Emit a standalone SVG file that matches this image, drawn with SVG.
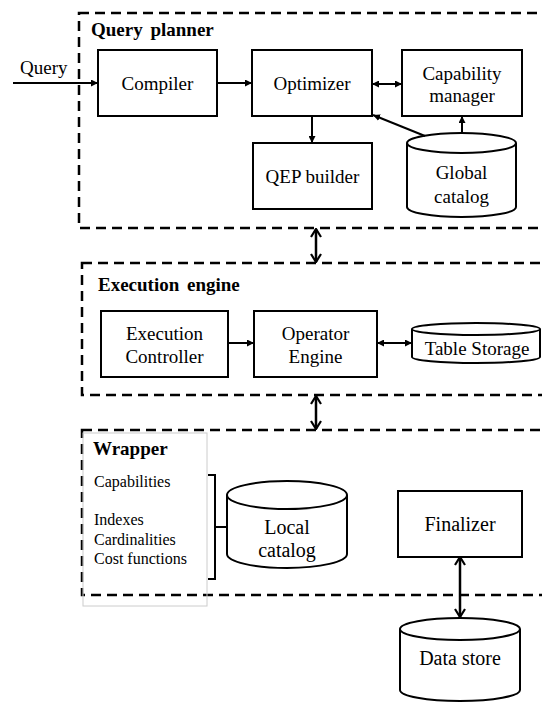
<svg xmlns="http://www.w3.org/2000/svg" width="542" height="702" viewBox="0 0 542 702" font-family="'Liberation Serif', 'Times New Roman', serif">
<defs>
<style>
text{font-family:"Liberation Serif","Times New Roman",serif;fill:#000}
.lbl{font-size:19px;text-anchor:middle}
.lg{font-size:20px;text-anchor:middle}
.ttl{font-size:19px;font-weight:bold}
.sm{font-size:16px}
.box{fill:#fff;stroke:#000;stroke-width:2}
.dash{fill:none;stroke:#000;stroke-width:2.5;stroke-dasharray:10,6}
.ln{fill:none;stroke:#000;stroke-width:2}
.big{fill:none;stroke:#000;stroke-width:2.5}
</style>
<marker id="ah" viewBox="0 0 10 10" refX="10" refY="5" markerWidth="7" markerHeight="7" markerUnits="userSpaceOnUse" orient="auto-start-reverse">
<path d="M0,0 L10,5 L0,10 Z" fill="#000"/>
</marker>
<marker id="ch" viewBox="0 0 12 12" refX="11" refY="6" markerWidth="12" markerHeight="12" markerUnits="userSpaceOnUse" orient="auto-start-reverse">
<path d="M3,1 L11,6 L3,11" fill="none" stroke="#000" stroke-width="2.2"/>
</marker>
</defs>
<rect width="542" height="702" fill="#fff"/>

<g id="query-planner">
<rect class="dash" x="79" y="13" width="490" height="215"/>
<text class="ttl" x="91" y="36" word-spacing="3">Query planner</text>
</g>
<g id="execution-engine">
<rect class="dash" x="82" y="263" width="487" height="132"/>
<text class="ttl" x="98" y="291" word-spacing="3">Execution engine</text>
</g>
<g id="wrapper">
<rect class="dash" x="82" y="430" width="487" height="165"/>
<rect x="83" y="433" width="124" height="173" fill="none" stroke="#ccc" stroke-width="1"/>
<text class="ttl" x="93" y="455">Wrapper</text>
<text class="sm" x="94" y="487">Capabilities</text>
<text class="sm" x="94" y="525">Indexes</text>
<text class="sm" x="94" y="545">Cardinalities</text>
<text class="sm" x="94" y="564">Cost functions</text>
<path class="ln" d="M208,475 H215 V579 H208 M215,527 H227"/>
</g>

<g id="compiler"><rect class="box" x="98" y="50" width="119" height="66"/><text class="lbl" x="157.5" y="90">Compiler</text></g>
<g id="optimizer"><rect class="box" x="252" y="50" width="120" height="66"/><text class="lbl" x="312" y="90">Optimizer</text></g>
<g id="capability-manager"><rect class="box" x="402" y="50" width="120" height="66"/><text class="lbl" x="462" y="80">Capability</text><text class="lbl" x="462" y="102">manager</text></g>
<g id="qep-builder"><rect class="box" x="253" y="143" width="119" height="66"/><text class="lbl" x="312.5" y="183">QEP builder</text></g>
<g id="global-catalog">
<path class="box" d="M407,143 A54.5,10 0 0 1 516,143 V207 A54.5,10 0 0 1 407,207 Z"/>
<path class="ln" d="M407,143 A54.5,10 0 0 0 516,143"/>
<text class="lbl" x="461.5" y="179">Global</text><text class="lbl" x="461.5" y="203">catalog</text>
</g>

<g id="execution-controller"><rect class="box" x="101" y="311" width="127" height="66"/><text class="lbl" x="164.5" y="340">Execution</text><text class="lbl" x="164.5" y="363">Controller</text></g>
<g id="operator-engine"><rect class="box" x="254" y="311" width="123" height="66"/><text class="lbl" x="315.5" y="340">Operator</text><text class="lbl" x="315.5" y="363">Engine</text></g>
<g id="table-storage">
<path class="box" d="M412,329 A64,6 0 0 1 540,329 V357 A64,6 0 0 1 412,357 Z"/>
<path class="ln" d="M412,329 A64,6 0 0 0 540,329"/>
<text class="lbl" x="477" y="355">Table Storage</text>
</g>

<g id="local-catalog">
<path class="box" d="M227,495 A60,14 0 0 1 347,495 V554 A60,14 0 0 1 227,554 Z"/>
<path class="ln" d="M227,495 A60,14 0 0 0 347,495"/>
<text class="lg" x="287" y="534">Local</text><text class="lg" x="287" y="557">catalog</text>
</g>
<g id="finalizer"><rect class="box" x="398" y="491" width="124" height="66"/><text class="lg" x="460" y="531">Finalizer</text></g>
<g id="data-store">
<path class="box" d="M400,629 A60,11 0 0 1 520,629 V690 A60,11 0 0 1 400,690 Z"/>
<path class="ln" d="M400,629 A60,11 0 0 0 520,629"/>
<text class="lg" x="460" y="665">Data store</text>
</g>

<g id="connectors">
<text x="20" y="74" style="font-size:19px">Query</text>
<line class="ln" x1="13" y1="83" x2="98" y2="83" marker-end="url(#ah)"/>
<line class="ln" x1="217" y1="83" x2="252" y2="83" marker-end="url(#ah)"/>
<line class="ln" x1="372" y1="84" x2="402" y2="84" marker-start="url(#ah)" marker-end="url(#ah)"/>
<line class="ln" x1="312" y1="116" x2="312" y2="143" marker-end="url(#ah)"/>
<line class="ln" x1="425" y1="136" x2="373" y2="115" marker-end="url(#ah)"/>
<line class="ln" x1="462" y1="133" x2="462" y2="116" marker-end="url(#ah)"/>
<line class="big" x1="316" y1="229" x2="316" y2="262" marker-start="url(#ch)" marker-end="url(#ch)"/>
<line class="ln" x1="228" y1="343" x2="254" y2="343" marker-end="url(#ah)"/>
<line class="ln" x1="377" y1="343" x2="412" y2="343" marker-start="url(#ah)" marker-end="url(#ah)"/>
<line class="big" x1="316" y1="396" x2="316" y2="429" marker-start="url(#ch)" marker-end="url(#ch)"/>
<line class="big" x1="460" y1="557" x2="460" y2="617" marker-start="url(#ch)" marker-end="url(#ch)"/>
</g>
</svg>
